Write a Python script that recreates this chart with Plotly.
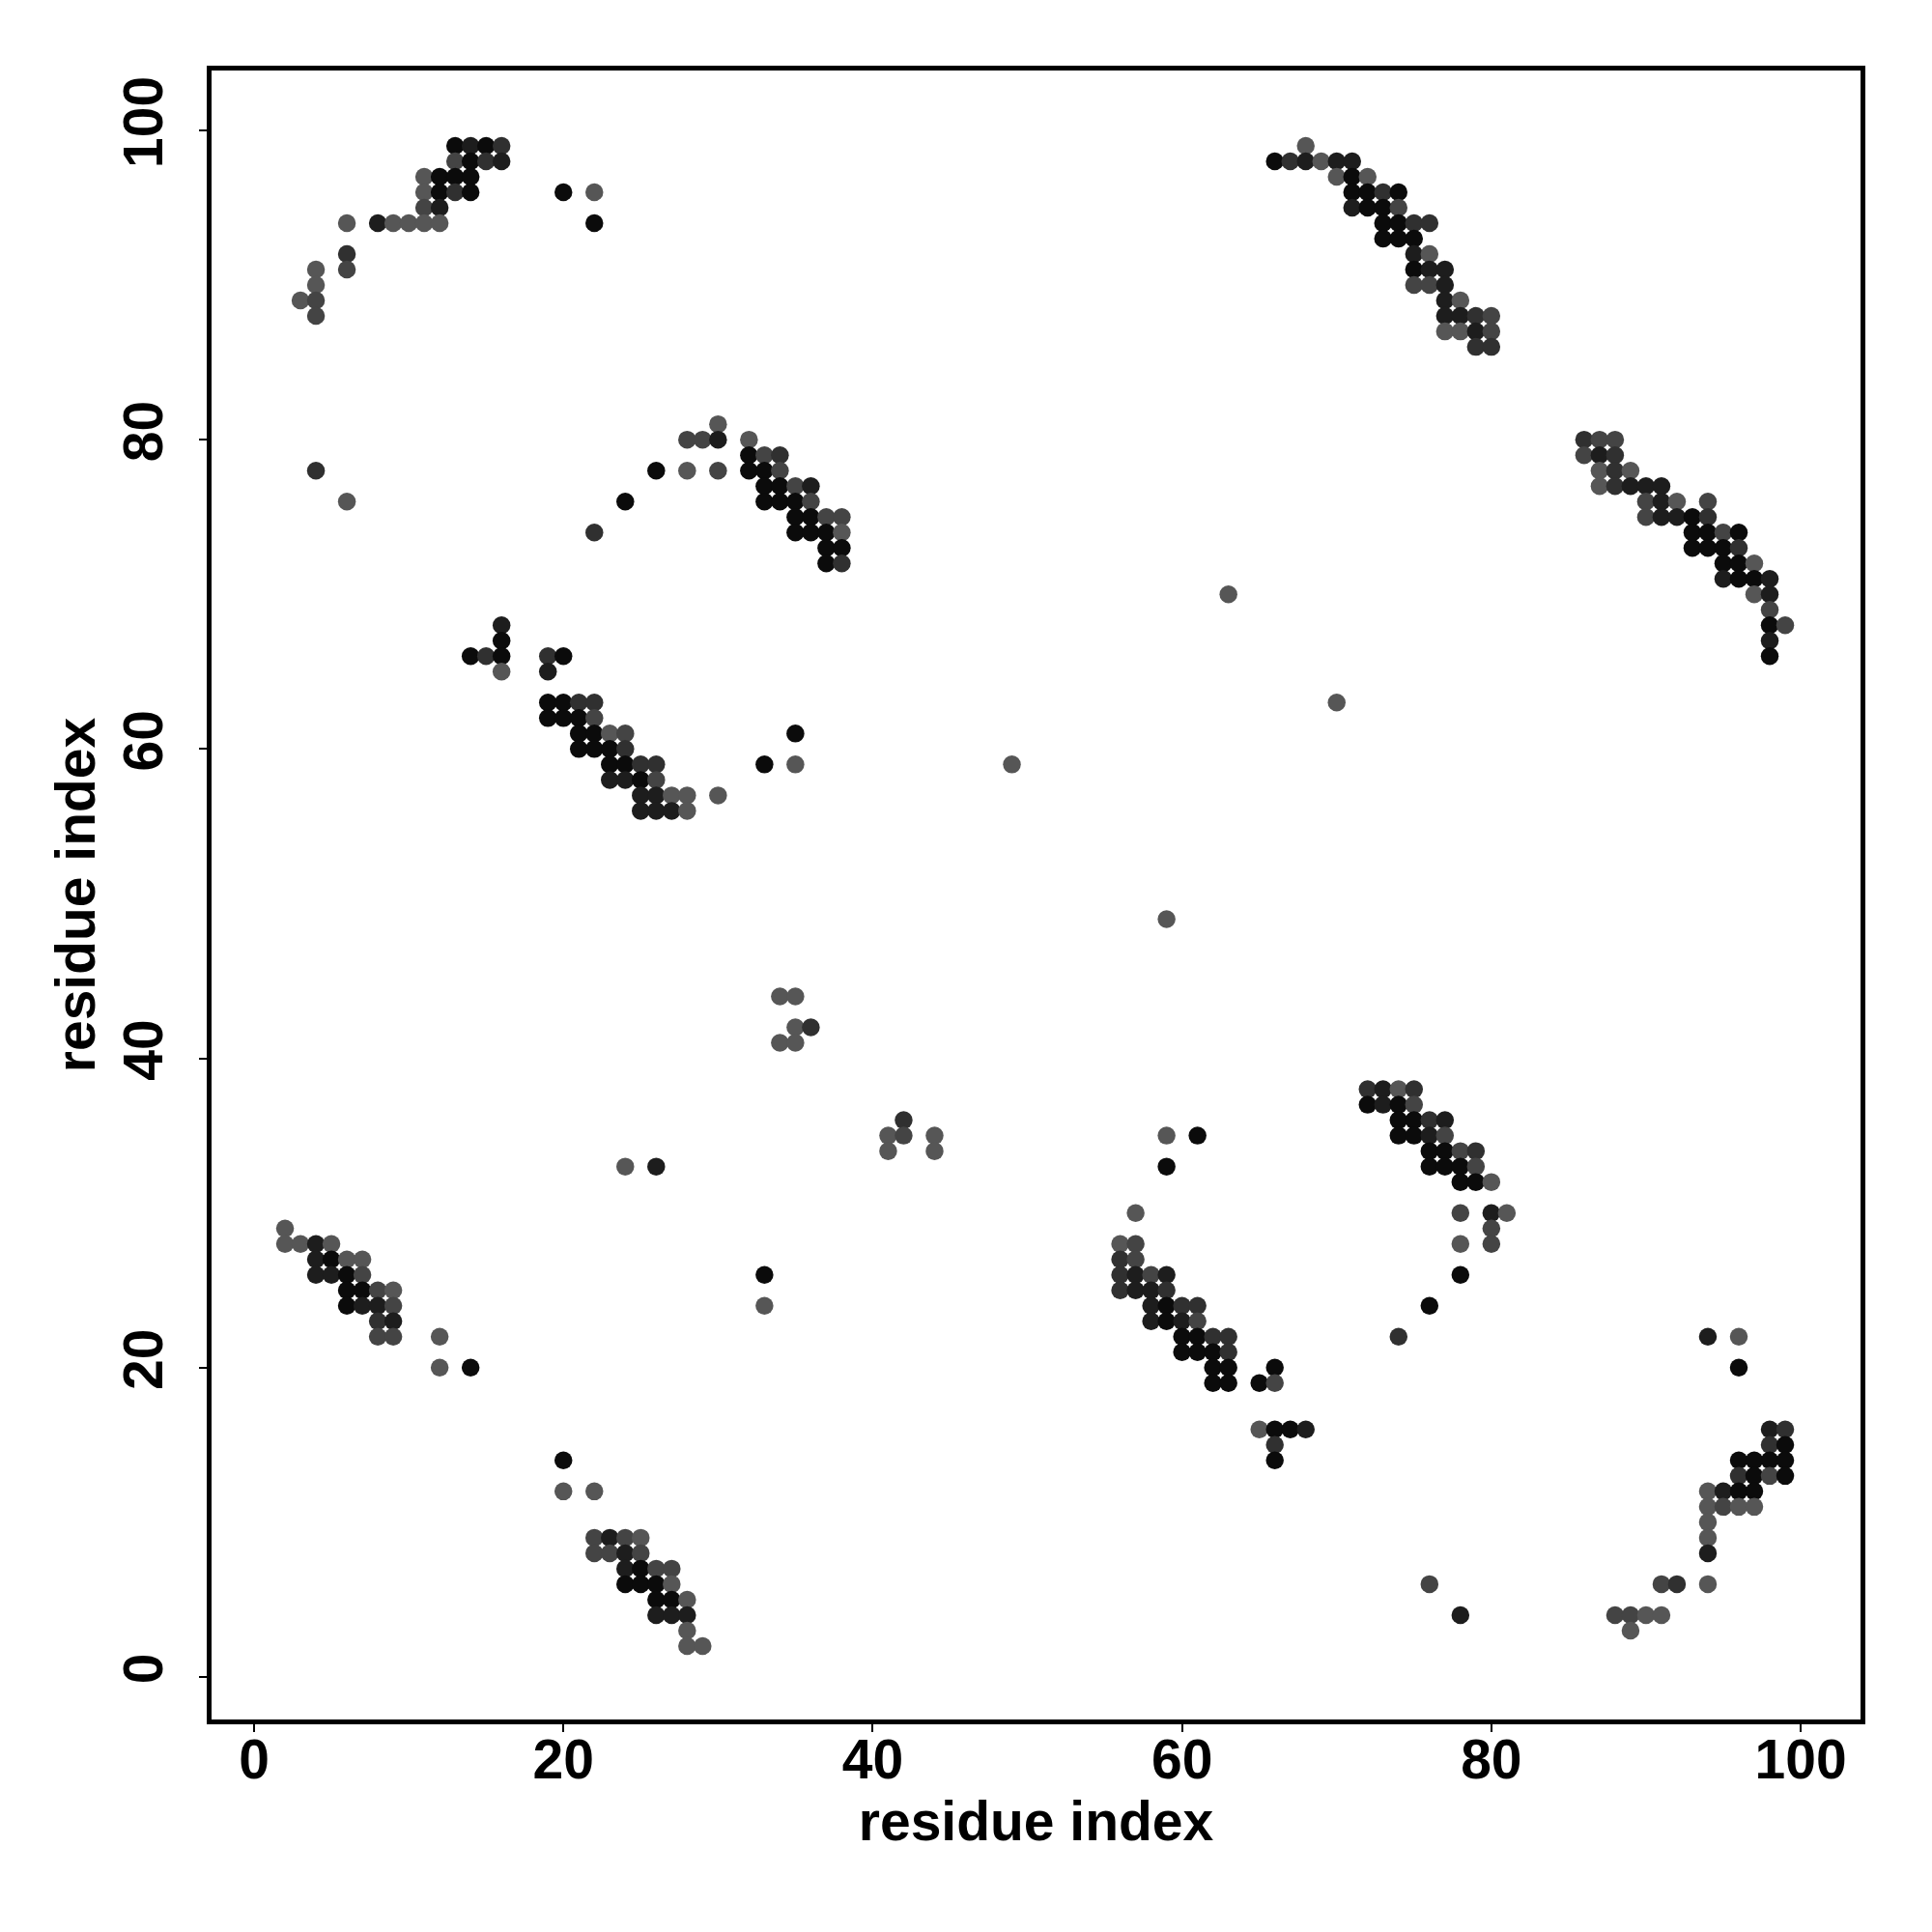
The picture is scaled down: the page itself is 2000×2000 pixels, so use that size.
import plotly.graph_objects as go

# gray levels used for contact strength (0 = darkest)
palette = ["#0b0b0b", "#1d1d1d", "#303030", "#444444", "#565656"]

# contact list: residue i (x), residue j (y), shade level
res_i = [
    # top-left
    13, 14, 15, 16, 13, 14, 15, 16, 11, 12, 13, 14, 11, 12, 13, 14, 20, 22, 11, 12,
    6, 8, 9, 10, 11, 12, 22, 6, 4, 6, 4, 3, 4, 4,
    # top-right
    68, 66, 67, 68, 69, 70, 71, 70, 71, 72, 71, 72, 73, 74, 71, 72, 73, 74,
    73, 74, 75, 76, 73, 74, 75, 75, 76, 75, 76, 77, 75, 76, 77, 77, 78,
    77, 78, 79, 80, 77, 78, 79, 80, 79, 80,
    # right-middle
    86, 87, 88, 86, 87, 88, 87, 88, 89, 87, 88, 89, 90, 91, 90, 91, 92, 94,
    90, 91, 92, 93, 94, 93, 94, 95, 96, 93, 94, 95, 96, 95, 96, 97,
    95, 96, 97, 98, 97, 98, 98, 98, 99, 98, 98,
    # middle
    30, 28, 29, 30, 32, 32, 33, 34, 26, 28, 30, 32, 33, 34, 33, 34, 35, 36,
    24, 33, 34, 35, 36, 35, 36, 37, 38, 22, 35, 36, 37, 38, 37, 38, 37, 38,
    16, 16, 14, 15, 16, 19, 20, 16, 19, 19, 20, 21, 22, 19, 20, 21, 22,
    21, 22, 23, 24, 35, 21, 22, 23, 24, 23, 24, 25, 26, 33, 35,
    23, 24, 25, 26, 25, 26, 27, 28, 30, 25, 26, 27, 28,
    # scattered centre
    34, 35, 35, 36, 34, 35, 42, 41, 42, 44, 41, 44, 24, 26,
    4, 6, 49, 59, 63, 70, 33, 33,
    # bottom-left
    2, 2, 3, 4, 5, 4, 5, 6, 7, 4, 5, 6, 7, 6, 7, 8, 9, 6, 7, 8, 9,
    8, 9, 8, 9, 12, 12, 14,
    # bottom
    20, 20, 22, 22, 23, 24, 25, 22, 23, 24, 25, 24, 25, 26, 27, 24, 25, 26, 27,
    26, 27, 28, 26, 27, 28, 28, 28, 29,
    # bottom-middle-right
    72, 73, 74, 75, 72, 73, 74, 75, 74, 75, 76, 77, 59, 61, 74, 75, 76, 77,
    76, 77, 78, 79, 59, 76, 77, 78, 79, 78, 79, 80, 57, 78, 80, 81, 80,
    56, 57, 78, 80, 56, 57, 56, 57, 58, 59, 78, 56, 57, 58, 59,
    58, 59, 60, 61, 76, 58, 59, 60, 61, 60, 61, 62, 63, 74, 60, 61, 62, 63,
    62, 63, 66, 62, 63, 65, 66, 65, 66, 67, 68, 66, 66,
    # bottom-right
    94, 96, 96, 98, 99, 98, 99, 96, 97, 98, 99, 96, 97, 98, 99,
    94, 95, 96, 97, 94, 95, 96, 97, 94, 94, 94,
    76, 91, 92, 94, 78, 88, 89, 90, 91, 89,
]

res_j = [
    # top-left
    99, 99, 99, 99, 98, 98, 98, 98, 97, 97, 97, 97, 96, 96, 96, 96, 96, 96, 95, 95,
    94, 94, 94, 94, 94, 94, 94, 92, 91, 91, 90, 89, 89, 88,
    # top-right
    99, 98, 98, 98, 98, 98, 98, 97, 97, 97, 96, 96, 96, 96, 95, 95, 95, 95,
    94, 94, 94, 94, 93, 93, 93, 92, 92, 91, 91, 91, 90, 90, 90, 89, 89,
    88, 88, 88, 88, 87, 87, 87, 87, 86, 86,
    # right-middle
    80, 80, 80, 79, 79, 79, 78, 78, 78, 77, 77, 77, 77, 77, 76, 76, 76, 76,
    75, 75, 75, 75, 75, 74, 74, 74, 74, 73, 73, 73, 73, 72, 72, 72,
    71, 71, 71, 71, 70, 70, 69, 68, 68, 67, 66,
    # middle
    81, 80, 80, 80, 80, 79, 79, 79, 78, 78, 78, 78, 78, 78, 77, 77, 77, 77,
    76, 76, 76, 76, 76, 75, 75, 75, 75, 74, 74, 74, 74, 74, 73, 73, 72, 72,
    68, 67, 66, 66, 66, 66, 66, 65, 65, 63, 63, 63, 63, 62, 62, 62, 62,
    61, 61, 61, 61, 61, 60, 60, 60, 60, 59, 59, 59, 59, 59, 59,
    58, 58, 58, 58, 57, 57, 57, 57, 57, 56, 56, 56, 56,
    # scattered centre
    44, 44, 42, 42, 41, 41, 36, 35, 35, 35, 34, 34, 33, 33,
    78, 76, 59, 49, 70, 63, 26, 24,
    # bottom-left
    29, 28, 28, 28, 28, 27, 27, 27, 27, 26, 26, 26, 26, 25, 25, 25, 25, 24, 24, 24, 24,
    23, 23, 22, 22, 22, 20, 20,
    # bottom
    14, 12, 12, 9, 9, 9, 9, 8, 8, 8, 8, 7, 7, 7, 7, 6, 6, 6, 6,
    5, 5, 5, 4, 4, 4, 3, 2, 2,
    # bottom-middle-right
    38, 38, 38, 38, 37, 37, 37, 37, 36, 36, 36, 36, 35, 35, 35, 35, 35, 35,
    34, 34, 34, 34, 33, 33, 33, 33, 33, 32, 32, 32, 30, 30, 30, 30, 29,
    28, 28, 28, 28, 27, 27, 26, 26, 26, 26, 26, 25, 25, 25, 25,
    24, 24, 24, 24, 24, 23, 23, 23, 23, 22, 22, 22, 22, 22, 21, 21, 21, 21,
    20, 20, 20, 19, 19, 19, 19, 16, 16, 16, 16, 15, 14,
    # bottom-right
    22, 22, 20, 16, 16, 15, 15, 14, 14, 14, 14, 13, 13, 13, 13,
    12, 12, 12, 12, 11, 11, 11, 11, 10, 9, 8,
    6, 6, 6, 6, 4, 4, 4, 4, 4, 3,
]

level = [
    # top-left
    0, 1, 0, 2, 3, 0, 2, 1, 4, 0, 0, 0, 4, 0, 2, 0, 0, 4, 3, 1,
    4, 1, 4, 4, 4, 4, 0, 2, 4, 3, 4, 4, 3, 3,
    # top-right
    4, 0, 2, 1, 4, 1, 1, 4, 0, 4, 0, 0, 2, 0, 1, 0, 0, 3,
    0, 0, 2, 2, 0, 0, 0, 1, 4, 0, 1, 1, 3, 3, 1, 1, 4,
    1, 1, 2, 3, 4, 4, 1, 3, 2, 2,
    # right-middle
    2, 3, 3, 3, 1, 2, 4, 2, 4, 4, 2, 1, 1, 1, 3, 1, 4, 3,
    3, 1, 1, 0, 2, 0, 0, 3, 0, 0, 0, 0, 2, 0, 0, 4,
    1, 0, 0, 1, 4, 1, 3, 0, 3, 1, 0,
    # middle
    4, 3, 3, 1, 4, 0, 3, 2, 0, 4, 3, 0, 0, 3, 0, 0, 3, 1,
    0, 0, 0, 0, 3, 0, 0, 3, 3, 2, 0, 0, 0, 4, 0, 0, 0, 2,
    1, 0, 0, 2, 0, 2, 0, 4, 1, 0, 0, 2, 2, 0, 0, 0, 3,
    0, 0, 4, 3, 0, 0, 0, 0, 2, 0, 0, 2, 2, 0, 4,
    1, 1, 0, 3, 1, 1, 4, 4, 4, 1, 1, 1, 4,
    # scattered centre
    4, 4, 4, 2, 4, 4, 2, 4, 3, 4, 4, 4, 4, 1,
    2, 4, 4, 4, 4, 4, 0, 4,
    # bottom-left
    4, 4, 4, 1, 4, 1, 0, 4, 4, 1, 1, 0, 3, 0, 0, 3, 4, 0, 1, 1, 3,
    2, 1, 3, 3, 4, 4, 0,
    # bottom
    0, 4, 4, 3, 1, 3, 4, 3, 3, 1, 3, 1, 0, 3, 3, 0, 0, 0, 4,
    0, 0, 4, 1, 1, 1, 4, 4, 4,
    # bottom-middle-right
    2, 1, 4, 2, 0, 1, 0, 3, 0, 0, 2, 1, 4, 0, 0, 0, 1, 3,
    0, 0, 3, 2, 0, 0, 0, 0, 3, 0, 0, 4, 4, 3, 1, 4, 3,
    4, 3, 4, 3, 2, 3, 2, 1, 3, 1, 0, 2, 1, 1, 2,
    1, 0, 2, 2, 0, 1, 0, 1, 3, 0, 0, 2, 2, 2, 0, 0, 0, 2,
    0, 0, 0, 0, 0, 0, 3, 4, 0, 0, 1, 2, 0,
    # bottom-right
    1, 4, 0, 1, 2, 2, 0, 0, 0, 0, 0, 2, 0, 3, 0,
    4, 1, 0, 0, 4, 3, 4, 4, 4, 4, 1,
    3, 3, 2, 4, 1, 3, 3, 4, 4, 4,
]

tick_vals = [0, 20, 40, 60, 80, 100]
axis_title = "residue index"

assert len(res_i) == len(res_j) == len(level)

font_family = "Liberation Sans, Arial, Helvetica, sans-serif"

fig = go.Figure(
    go.Scatter(
        x=res_i,
        y=res_j,
        mode="markers",
        marker=dict(size=18.5, color=[palette[l] for l in level], line=dict(width=0)),
        hoverinfo="x+y",
    )
)

axis_common = dict(
    range=[-2.75, 103.87],
    automargin=False,
    tickmode="array",
    tickvals=tick_vals,
    ticktext=[str(v) for v in tick_vals],
    ticks="outside",
    ticklen=8,
    tickwidth=2,
    tickcolor="black",
    showline=True,
    linewidth=5,
    linecolor="black",
    mirror=True,
    showgrid=False,
    zeroline=False,
    tickfont=dict(family=font_family, size=57, color="black", weight="bold"),
    title=dict(text=axis_title, font=dict(family=font_family, size=57, color="black", weight="bold")),
)

# the page body adds an 8px offset, so margins compensate for it
fig.update_layout(
    width=2000,
    height=2000,
    margin=dict(l=211, r=82, t=65, b=228),
    paper_bgcolor="white",
    plot_bgcolor="white",
    showlegend=False,
)
fig.update_xaxes(**axis_common)
fig.update_yaxes(**axis_common)
fig.update_xaxes(title_standoff=14, ticklabelstandoff=-20)
fig.update_yaxes(tickangle=-90, title_standoff=1, ticklabelstandoff=15)

fig.write_html("out.html")
